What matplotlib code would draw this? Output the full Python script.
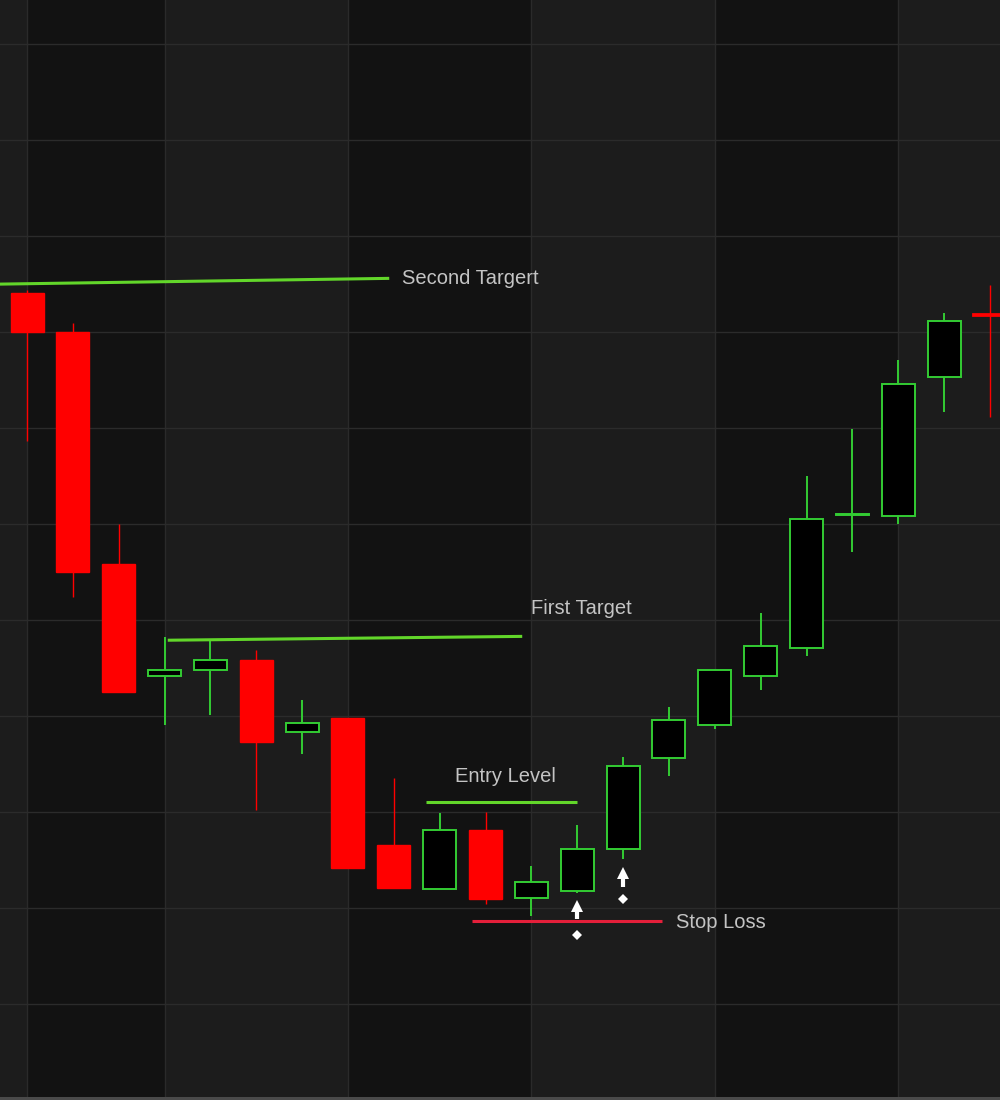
import numpy as np
import matplotlib.pyplot as plt

# ---------------------------------------------------------
# Candle data
# ---------------------------------------------------------
opens  = [174.1, 170.0, 145.8, 134.2, 134.8, 135.8, 128.3, 129.8, 116.6, 112.0, 118.1,
          111.0, 111.8, 116.2, 125.6, 129.1, 134.2, 137.1, 150.9, 150.8, 165.3, 171.85]
highs  = [174.4, 171.0, 150.0, 138.2, 137.8, 136.9, 131.7, 129.8, 123.5, 119.9, 120.0,
          114.4, 118.7, 125.7, 130.9, 134.9, 140.7, 155.0, 159.9, 167.1, 172.0, 174.9]
lows   = [158.7, 142.4, 132.5, 129.1, 130.1, 120.2, 126.0, 114.2, 112.1, 112.0, 110.4,
          109.2, 111.6, 115.1, 123.8, 128.7, 132.7, 136.3, 147.1, 150.0, 161.7, 161.2]
closes = [170.0, 145.0, 132.5, 134.8, 135.8, 127.3, 129.3, 114.2, 112.1, 118.1, 110.9,
          112.7, 116.2, 124.8, 129.6, 134.8, 137.3, 150.5, 151.0, 164.6, 171.2, 171.75]

# annotation levels
second_target = ([-0.6, 7.9], [175.0, 175.6])
first_target = ([3.07, 10.8], [137.9, 138.3])
entry_level = ([8.7, 12.0], [121.0, 121.0])
stop_loss = ([9.7, 13.85], [108.65, 108.65])

labels = ["Second Targert", "First Target", "Entry Level", "Stop Loss"]
label_pos = [(8.18, 175.6), (11.0, 141.2), (9.33, 123.7), (14.15, 108.5)]

# buy signals: candle index, arrow base, arrow tip, dot
signals = [(12, 108.9, 110.6, 107.2), (13, 112.2, 114.1, 110.9)]

# date separators (candle index)
separators = [0, 3, 7, 11, 15, 19]

GREEN = '#33cc33'
RED = '#ff0000'
LINE_GREEN = '#62d62a'
TEXT = '#c4c4c4'
LIGHT = '#1c1c1c'
DARK = '#121212'

fig = plt.figure(figsize=(10, 11), dpi=100)
ax = fig.add_axes([0, 0, 1, 1])
ax.set_xlim(-0.589, 21.22)
ax.set_ylim(90, 204.6)
ax.set_facecolor(LIGHT)
ax.axis('off')

# alternating background bands
edges = separators + [21.22]
for k in range(len(separators)):
    if k % 2 == 0:
        ax.axvspan(edges[k], edges[k + 1], color=DARK, zorder=0, lw=0)
for s in separators:
    ax.axvline(s, color='#2a2a2a', lw=1, zorder=1)
for yv in np.arange(100, 201, 10):
    ax.axhline(yv, color='#2b2b2b', lw=1.0, zorder=1)
ax.axhspan(90, 90.3, color='#4a4a4a', zorder=1, lw=0)

# candles
x = np.arange(len(opens))
w = 0.72
for i in x:
    o, h, l, c = opens[i], highs[i], lows[i], closes[i]
    up = c >= o
    col = GREEN if up else RED
    ax.vlines(i, l, h, color=col, lw=1.4 if up else 1.0, zorder=2)
    bottom = min(o, c)
    height = max(abs(c - o), 0.08)
    if up:
        ax.bar(i, height, w, bottom=bottom, facecolor='black', edgecolor=col,
               linewidth=1.4, zorder=3)
    else:
        ax.bar(i, height, w, bottom=bottom, facecolor=col, edgecolor=col,
               linewidth=1.0 if height > 0.5 else 2.0, zorder=3)

# annotation lines
for xs, ys in [second_target, first_target, entry_level]:
    ax.plot(xs, ys, color=LINE_GREEN, lw=2.2, zorder=4, solid_capstyle='butt')
ax.plot(*stop_loss, color='#e41f3a', lw=2.2, zorder=4, solid_capstyle='butt')

for txt, (tx, ty) in zip(labels, label_pos):
    ax.text(tx, ty, txt, color=TEXT, fontsize=14.5, va='center', ha='left',
            family=['Liberation Sans Narrow', 'Liberation Sans', 'DejaVu Sans'], zorder=5)

# buy signal arrows: shaft + triangular head + dot
for i, base, tip, dot in signals:
    ax.vlines(i, base, tip - 0.6, color='white', lw=3.0, zorder=6)
    ax.plot(i, tip - 0.42, marker='^', color='white', markersize=8.5,
            markeredgewidth=0, zorder=6)
    ax.plot(i, dot, marker='D', color='white', markersize=5.5,
            markeredgewidth=0, zorder=6)

plt.savefig('out.png', dpi=100, facecolor=LIGHT)
